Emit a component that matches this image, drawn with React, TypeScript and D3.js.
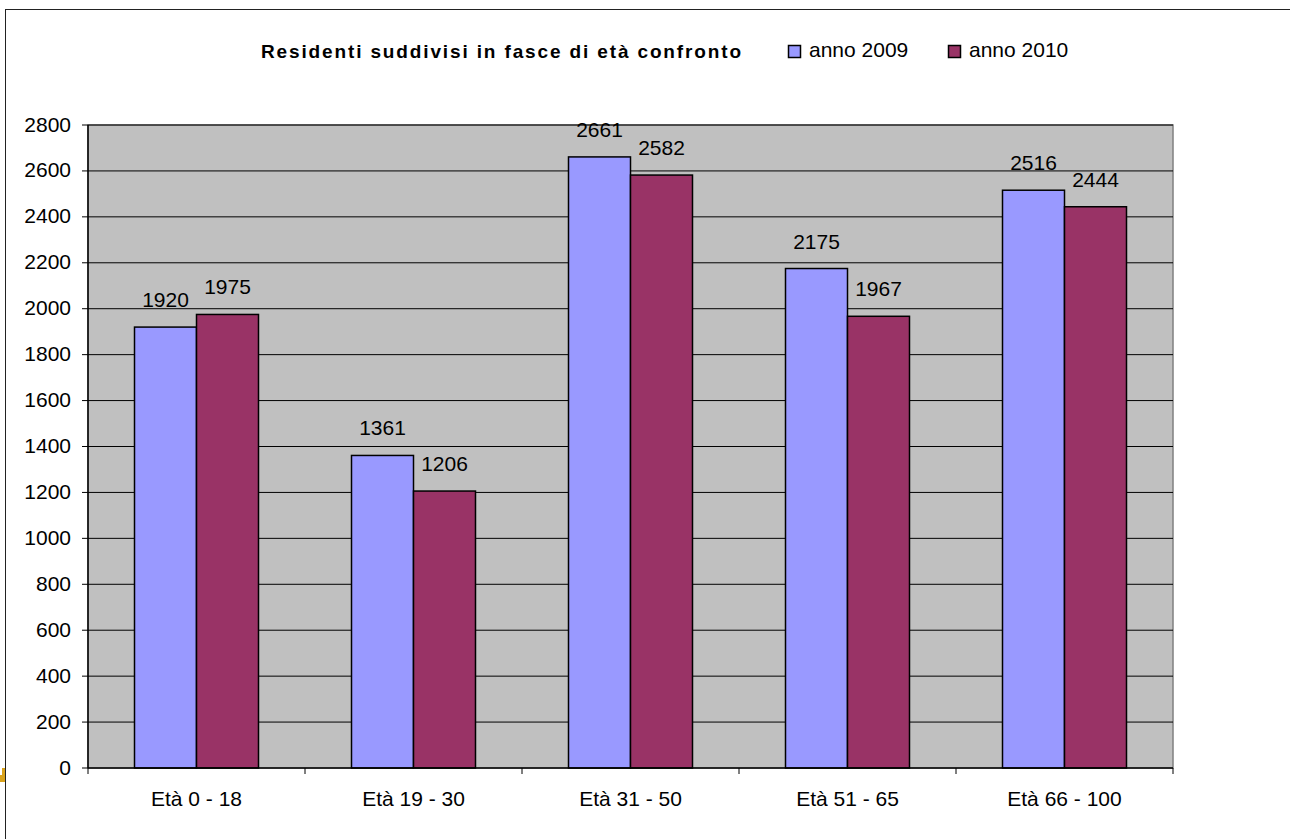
import React from "react";
import * as d3 from "d3";

const categories = ["Età 0 - 18", "Età 19 - 30", "Età 31 - 50", "Età 51 - 65", "Età 66 - 100"];
const seriesNames = ["anno 2009", "anno 2010"];
const values2009 = [1920, 1361, 2661, 2175, 2516];
const values2010 = [1975, 1206, 2582, 1967, 2444];
const yTicks = [0, 200, 400, 600, 800, 1000, 1200, 1400, 1600, 1800, 2000, 2200, 2400, 2600, 2800];
const colors = ["#9999FF", "#993366"];
const title = "Residenti suddivisi in fasce di età confronto";

export default function App() {
  const W = 1290, H = 839;
  const left = 88, right = 1173, top = 125, bottom = 768;
  const x = d3.scaleBand<string>().domain(categories).range([left, right]).paddingInner(0).paddingOuter(0);
  const bw = x.bandwidth();
  const groupW = bw * 0.5714;
  const xs = d3.scaleBand<string>().domain(seriesNames).range([(bw - groupW) / 2, (bw + groupW) / 2]);
  const y = d3.scaleLinear().domain([0, 2800]).range([bottom, top]);
  const series = [values2009, values2010];
  const font = "Arial, 'Liberation Sans', sans-serif";
  const fs = 21;

  return (
    <svg width={W} height={H} style={{ position: "absolute", left: 0, top: 0, background: "#fff" }} fontFamily={font}>
      <rect x={0} y={0} width={W} height={H} fill="#fff" />
      {/* outer frame */}
      <rect x={5.5} y={9.5} width={W + 10} height={H + 10} fill="none" stroke="#222" strokeWidth={1} />
      {/* orange mark */}
      <path d="M2,768 L5,768 L5,782 L0,782 L0,775 L2,775 Z" fill="#D9A21B" />
      {/* plot area */}
      <rect x={left} y={top} width={right - left} height={bottom - top} fill="#C0C0C0" stroke="#808080" strokeWidth={1.5} />
      {yTicks.filter((t) => t > 0).map((t) => (
        <line key={"g" + t} x1={left} x2={right} y1={y(t)} y2={y(t)} stroke="#000" strokeWidth={1} />
      ))}
      {/* bars */}
      {categories.map((c, i) =>
        seriesNames.map((s, j) => {
          const v = series[j][i];
          const bx = (x(c) as number) + (xs(s) as number);
          return (
            <g key={c + s}>
              <rect x={bx} y={y(v)} width={xs.bandwidth()} height={bottom - y(v)} fill={colors[j]} stroke="#000" strokeWidth={1.5} />
              <text x={bx + xs.bandwidth() / 2} y={y(v) - 20} textAnchor="middle" fontSize={fs} fill="#000">{v}</text>
            </g>
          );
        })
      )}
      {/* axes */}
      <line x1={left} x2={left} y1={top} y2={bottom} stroke="#000" strokeWidth={1.5} />
      <line x1={left} x2={right} y1={bottom} y2={bottom} stroke="#000" strokeWidth={1.5} />
      {yTicks.map((t) => (
        <g key={"y" + t}>
          <line x1={left - 6} x2={left} y1={y(t)} y2={y(t)} stroke="#000" strokeWidth={1} />
          <text x={71} y={y(t) + 6.5} textAnchor="end" fontSize={fs} fill="#000">{t}</text>
        </g>
      ))}
      {[...categories.map((c) => x(c) as number), right].map((px, i) => (
        <line key={"xt" + i} x1={px} x2={px} y1={bottom} y2={bottom + 6} stroke="#000" strokeWidth={1} />
      ))}
      {categories.map((c) => (
        <text key={"xl" + c} x={(x(c) as number) + bw / 2} y={806} textAnchor="middle" fontSize={fs} fill="#000">{c}</text>
      ))}
      {/* title */}
      <text x={261} y={58} fontSize={19} fontWeight="bold" fill="#000" textLength={480} lengthAdjust="spacing">{title}</text>
      {/* legend */}
      {seriesNames.map((s, j) => {
        const lx = j === 0 ? 788.5 : 948.5;
        return (
          <g key={"lg" + s}>
            <rect x={lx} y={45.5} width={12} height={12} fill={colors[j]} stroke="#000" strokeWidth={1.5} />
            <text x={lx + 20.5} y={57} fontSize={fs} fill="#000">{s}</text>
          </g>
        );
      })}
    </svg>
  );
}
